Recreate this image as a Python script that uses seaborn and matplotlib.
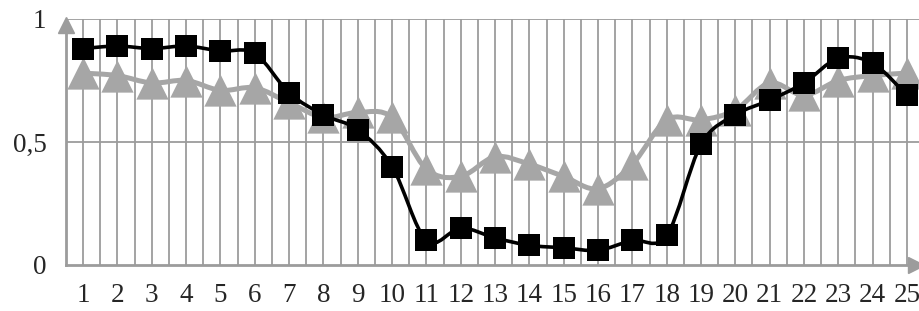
import numpy as np
import pandas as pd
import matplotlib
matplotlib.use("Agg")
import matplotlib.pyplot as plt
from matplotlib.path import Path
from matplotlib.patches import PathPatch
import seaborn as sns

# ------------------------------
# Data
# ------------------------------
hours = list(range(1, 26))
black_vals = [0.88, 0.89, 0.88, 0.89, 0.87, 0.86, 0.70, 0.61, 0.55, 0.40,
              0.10, 0.15, 0.11, 0.08, 0.07, 0.06, 0.10, 0.12, 0.49, 0.61,
              0.67, 0.74, 0.84, 0.82, 0.69]
gray_vals = [0.78, 0.77, 0.74, 0.75, 0.71, 0.72, 0.66, 0.60, 0.62, 0.60,
             0.39, 0.36, 0.44, 0.41, 0.36, 0.31, 0.41, 0.59, 0.59, 0.63,
             0.74, 0.69, 0.75, 0.77, 0.78]
y_ticks = [0, 0.5, 1]
y_labels = ["0", "0,5", "1"]

df = pd.DataFrame({"hour": hours, "black": black_vals, "gray": gray_vals})

BLACK = "#000000"
GRAY = "#A6A6A6"
GRID = "#9C9C9C"


def smooth_path(xs, ys):
    # Catmull-Rom style bezier through the points (Excel "smoothed line")
    pts = np.column_stack([xs, ys]).astype(float)
    n = len(pts)
    verts = [pts[0]]
    codes = [Path.MOVETO]
    for i in range(n - 1):
        p0 = pts[i - 1] if i > 0 else pts[i]
        p1 = pts[i]
        p2 = pts[i + 1]
        p3 = pts[i + 2] if i + 2 < n else pts[i + 1]
        c1 = p1 + (p2 - p0) / 6.0
        c2 = p2 - (p3 - p1) / 6.0
        verts += [c1, c2, p2]
        codes += [Path.CURVE4] * 3
    return Path(verts, codes)


sns.set_style("white")
plt.rcParams["font.family"] = ["Liberation Serif", "DejaVu Serif"]

fig = plt.figure(figsize=(9.2, 3.11), dpi=100)
ax = fig.add_axes([66 / 920, 46 / 311, 854 / 920, 246 / 311])

# grid: vertical lines every half category, horizontal at 0.5 and 1
for xv in np.arange(1.0, 25.01, 0.5):
    ax.axvline(xv, color=GRID, lw=1.3, zorder=0)
for yv in [0.5, 1.0]:
    ax.axhline(yv, color=GRID, lw=1.3, zorder=0)

# smoothed lines
ax.add_patch(PathPatch(smooth_path(df["hour"], df["gray"]), fill=False,
                       edgecolor=GRAY, lw=3.6, zorder=2, clip_on=False))
ax.add_patch(PathPatch(smooth_path(df["hour"], df["black"]), fill=False,
                       edgecolor=BLACK, lw=2.6, zorder=4, clip_on=False))

# markers
sns.scatterplot(data=df, x="hour", y="gray", marker="^", s=540, color=GRAY,
                edgecolor=GRAY, linewidth=0, ax=ax, zorder=3, clip_on=False)
sns.scatterplot(data=df, x="hour", y="black", marker="s", s=240, color=BLACK,
                edgecolor=BLACK, linewidth=0, ax=ax, zorder=5, clip_on=False)

ax.set_xlim(0.5, 25.38)
ax.set_ylim(0, 1)
ax.set_xlabel("")
ax.set_ylabel("")

# category axis: ticks at boundaries, labels at centers
ax.set_xticks(np.arange(0.5, 25.4, 1.0))
ax.set_xticklabels([])
ax.set_xticks(hours, minor=True)
ax.set_xticklabels([str(h) for h in hours], minor=True, fontsize=19.5)
ax.tick_params(axis="x", which="major", direction="out", length=6, width=1.5, color=GRID)
ax.tick_params(axis="x", which="minor", length=0, pad=13)

ax.set_yticks(y_ticks)
ax.set_yticklabels(y_labels, fontsize=19.5)
ax.tick_params(axis="y", direction="out", length=6, width=1.5, color=GRID, pad=8)

for side in ["top", "right"]:
    ax.spines[side].set_visible(False)
for side in ["left", "bottom"]:
    ax.spines[side].set_color(GRID)
    ax.spines[side].set_linewidth(2)
ax.spines["left"].set_bounds(0, 0.96)

# arrow heads on the axes
ax.plot([0.5], [0.975], marker="^", color=GRID, markersize=11, clip_on=False, zorder=6)
ax.plot([25.25], [0], marker=">", color=GRID, markersize=11, clip_on=False, zorder=6)

fig.savefig("out.png", dpi=100)
